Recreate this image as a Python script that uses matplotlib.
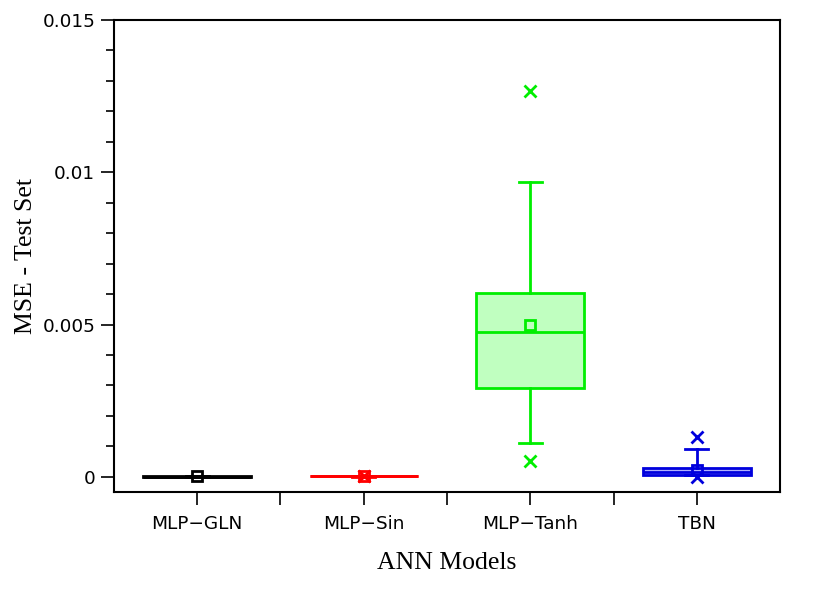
import numpy as np
import matplotlib.pyplot as plt
from matplotlib.ticker import MultipleLocator, FixedLocator

models = ["MLP\u2212GLN", "MLP\u2212Sin", "MLP\u2212Tanh", "TBN"]
colors = ["#000000", "#ff0000", "#00ee00", "#0000dd"]
fills = ["#808080", "#ff8080", "#c0ffc0", "#b0b0ff"]

# box statistics
q1 = [0.0, 0.00001, 0.00292, 0.00005]
med = [0.0, 0.00002, 0.00476, 0.00015]
q3 = [0.00001, 0.00003, 0.00604, 0.00030]
whislo = [0.0, 0.0, 0.00112, 0.00005]
whishi = [0.00001, 0.00003, 0.00969, 0.00092]
means = [0.00001, 0.00002, 0.00499, 0.00023]
fliers = [[], [0.00002], [0.01267, 0.00053], [0.00131, 0.0]]

fig = plt.figure(figsize=(8.3, 5.9), dpi=100)
ax = fig.add_axes([0.1373, 0.1661, 0.8025, 0.8000])

for i in range(len(models)):
    st = [dict(q1=q1[i], med=med[i], q3=q3[i], whislo=whislo[i],
               whishi=whishi[i], mean=means[i], fliers=fliers[i])]
    c = colors[i]
    ax.bxp(st, positions=[i + 1], widths=0.65, patch_artist=True,
           showmeans=True, showfliers=True,
           boxprops=dict(facecolor=fills[i], edgecolor=c, linewidth=2),
           medianprops=dict(color=c, linewidth=2),
           whiskerprops=dict(color=c, linewidth=2),
           capprops=dict(color=c, linewidth=2),
           capwidths=0.14,
           meanprops=dict(marker="s", markerfacecolor="none",
                          markeredgecolor=c, markersize=7, markeredgewidth=2),
           flierprops=dict(marker="x", markeredgecolor=c, markersize=8,
                           markeredgewidth=2))

ax.set_xlim(0.5, 4.5)
ax.set_ylim(-0.0005, 0.015)
ax.set_yticks([0, 0.005, 0.01, 0.015])
ax.set_yticklabels(["0", "0.005", "0.01", "0.015"])
ax.yaxis.set_minor_locator(MultipleLocator(0.001))
ax.set_xticks([1, 2, 3, 4])
ax.set_xticklabels(models)
ax.xaxis.set_minor_locator(FixedLocator([1.5, 2.5, 3.5]))

ax.tick_params(axis="both", which="both", direction="out", labelsize=13.3,
               width=1.2, top=False, right=False)
ax.tick_params(axis="y", which="major", length=9.5, pad=4)
ax.tick_params(axis="x", which="major", length=9.5, pad=7)
ax.tick_params(axis="y", which="minor", length=6)
ax.tick_params(axis="x", which="minor", length=9)
for s in ax.spines.values():
    s.set_linewidth(1.5)

ax.set_xlabel("ANN Models", family="Liberation Serif", fontsize=18.5, labelpad=14)
ax.set_ylabel("MSE - Test Set", family="Liberation Serif", fontsize=18.5, labelpad=4)

fig.savefig("out.png", dpi=100)
